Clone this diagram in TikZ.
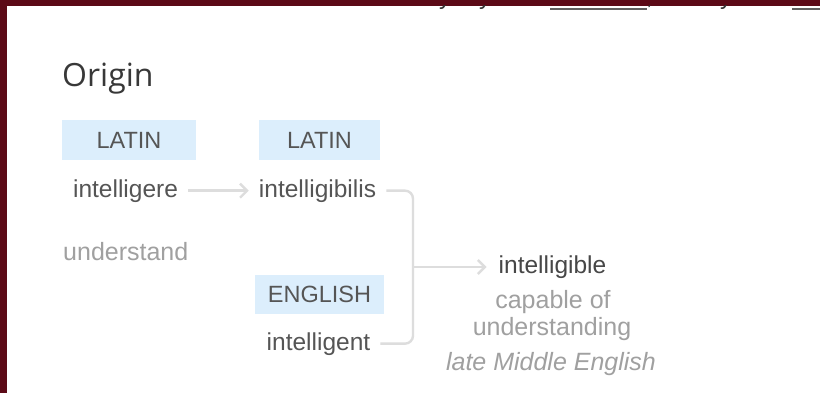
\documentclass[tikz,border=0pt]{standalone}
\usepackage{fontspec}
\setmainfont{Liberation Sans}
\newfontfamily\originfont{Open Sans}
\usetikzlibrary{arrows.meta}
\definecolor{frame}{HTML}{5C0A17}
\definecolor{lbox}{HTML}{DCEEFC}
\definecolor{wordc}{HTML}{555555}
\definecolor{softc}{HTML}{A0A0A0}
\definecolor{linec}{HTML}{DDDDDD}
\definecolor{headc}{HTML}{383838}
\tikzset{
  langbox/.style={fill=lbox, inner sep=0pt, text=wordc, font=\fontsize{23.5}{26}\selectfont},
  word/.style={inner sep=0pt, anchor=base, text=wordc, font=\fontsize{24.5}{28}\selectfont},
  gloss/.style={inner sep=0pt, anchor=base, text=softc, font=\fontsize{25}{28}\selectfont},
  conn/.style={draw=linec, line width=2.4pt},
  connarrow/.style={conn, -{Straight Barb[length=7pt,width=14pt,line width=2.4pt]}},
  topfrag/.style={inner sep=0pt, anchor=base west, text=black!80, font=\fontsize{24}{28}\selectfont}
}
\begin{document}
\begin{tikzpicture}[x=1pt,y=-1pt]
\useasboundingbox (0,0) rectangle (820,393);
\fill[frame] (0,0) rectangle (820,393);
\fill[white] (7,6) rectangle (820,393);
% cut-off line of text at the top
\begin{scope}
\clip (7,6) rectangle (820,393);
\node[topfrag] (f1) at (439,5) {y};
\node[topfrag] (f2) at (479,5) {y};
\node[topfrag] (f3) at (646,5) {,};
\node[topfrag] (f4) at (720,5) {y};
\fill[black!62] (550,8) rectangle (647,10.5);
\fill[black!62] (792,8) rectangle (820,10.5);
\end{scope}
% heading
\node[inner sep=0pt, anchor=base west, text=headc, font=\originfont\fontsize{32}{36}\selectfont] (origin) at (62,87) {Origin};
% language boxes
\node[langbox, minimum width=134pt, minimum height=40pt] (lat1) at (129,140) {LATIN};
\node[langbox, minimum width=121pt, minimum height=40pt] (lat2) at (319.5,140) {LATIN};
\node[langbox, minimum width=129pt, minimum height=39pt] (eng) at (319.5,294.5) {ENGLISH};
% words
\node[word] (intelligere) at (125.5,197) {intelligere};
\node[word] (ibilis) at (317.5,197) {intelligibilis};
\node[word] (intelligent) at (318.5,350) {intelligent};
\node[word, text=black!72] (intelligible) at (552.5,273) {intelligible};
% glosses
\node[gloss, anchor=base west] (understand) at (63,260) {understand};
\node[gloss] (capable) at (553,308) {capable of};
\node[gloss] (understanding) at (552,335) {understanding};
\node[gloss, font=\fontsize{25}{28}\selectfont\itshape] (lme) at (551,370) {late Middle English};
% connectors
\coordinate (jx) at (413,267);
\coordinate (ip) at ([xshift=-12pt]intelligible.west);
\draw[connarrow] ([xshift=10pt]intelligere.east) -- ([xshift=-10pt]ibilis.west);
\draw[conn, rounded corners=8pt] ([xshift=10pt]ibilis.east) -| (jx) |- ([xshift=10pt]intelligent.east);
\draw[connarrow] (jx) -- (jx -| ip);
\end{tikzpicture}
\end{document}
